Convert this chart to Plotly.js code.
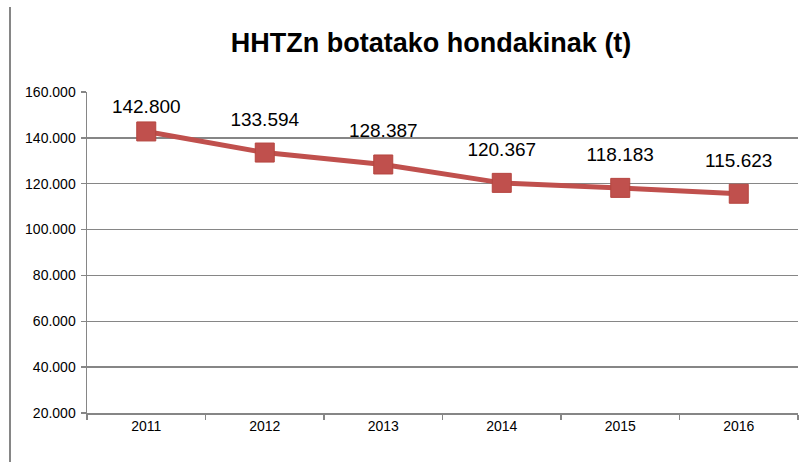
<!DOCTYPE html>
<html>
<head>
<meta charset="utf-8">
<script src="https://cdn.plot.ly/plotly-3.0.1.min.js"></script>
<style>html,body{margin:0;padding:0;background:#fff;}#chart{width:811px;height:462px;}</style>
</head>
<body>
<div id="chart"></div>
<script>
const years = ['2011', '2012', '2013', '2014', '2015', '2016'];
const tonnes = [142800, 133594, 128387, 120367, 118183, 115623];
const yTicks = [20000, 40000, 60000, 80000, 100000, 120000, 140000, 160000];
const chartTitle = 'HHTZn botatako hondakinak (t)';

const FONT = 'Liberation Sans, Arial, sans-serif';
const Y_MIN = 20000, Y_MAX = 160000;
const PLOT_TOP = 92, PLOT_H = 321;

// Data labels sit ~34px above the point, but (as in Excel) are kept inside the plot area.
const labelSizes = tonnes.map(v => {
  const py = PLOT_TOP + (Y_MAX - v) / (Y_MAX - Y_MIN) * PLOT_H;
  const centre = Math.max(py - 34.5, PLOT_TOP + 12);
  const offset = py - centre;
  return Math.max(2, 2 * (offset - 17.5));
});

const lineTrace = {
  x: years,
  y: tonnes,
  type: 'scatter',
  mode: 'lines+markers',
  line: {color: '#C0504D', width: 5},
  marker: {symbol: 'square', size: 19, color: '#C0504D', line: {color: '#B5443F', width: 1}},
  cliponaxis: false,
  hoverinfo: 'skip'
};

const labelTrace = {
  x: years,
  y: tonnes,
  type: 'scatter',
  mode: 'markers+text',
  marker: {symbol: 'square', size: labelSizes, opacity: 0},
  texttemplate: '%{y:,d}',
  textposition: 'top center',
  textfont: {family: FONT, size: 19, color: '#000'},
  cliponaxis: false,
  hoverinfo: 'skip'
};

const layout = {
  width: 811,
  height: 462,
  margin: {l: 87, r: 13, t: 92, b: 49},
  paper_bgcolor: '#fff',
  plot_bgcolor: '#fff',
  separators: ',.',
  showlegend: false,
  title: {
    text: '<b>' + chartTitle + '</b>',
    font: {family: FONT, size: 27, color: '#000'},
    x: 0.484, xanchor: 'center', xref: 'paper',
    y: 0.907, yanchor: 'middle', yref: 'container'
  },
  xaxis: {
    type: 'category',
    range: [-0.5, 5.5],
    tickson: 'boundaries',
    ticks: 'outside', ticklen: 5, tickcolor: '#868686', tickwidth: 1.5,
    showline: true, linecolor: '#868686', linewidth: 1.5,
    showgrid: false,
    tickfont: {family: FONT, size: 14, color: '#000'},
    fixedrange: true
  },
  yaxis: {
    range: [Y_MIN, Y_MAX],
    tickvals: yTicks,
    tickformat: ',d',
    ticks: 'outside', ticklen: 5, tickcolor: '#868686', tickwidth: 1.5,
    ticklabelstandoff: 2,
    showline: true, linecolor: '#868686', linewidth: 1.5,
    showgrid: true, gridcolor: '#868686', gridwidth: 1.5,
    zeroline: false,
    tickfont: {family: FONT, size: 14, color: '#000'},
    fixedrange: true
  },
  shapes: [{
    type: 'line', xref: 'paper', yref: 'paper',
    x0: -0.1083, x1: -0.1083, y0: 1.265, y1: -0.16,
    line: {color: '#868686', width: 2}
  }]
};

Plotly.newPlot('chart', [lineTrace, labelTrace], layout, {displayModeBar: false, staticPlot: true});
</script>
</body>
</html>
